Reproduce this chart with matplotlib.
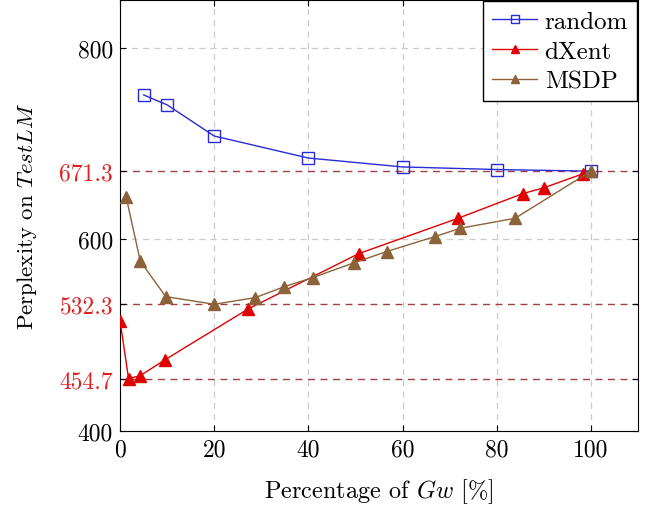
import numpy as np
from matplotlib import pyplot as plt

plt.rcParams['font.family'] = 'cmr10'
plt.rcParams['mathtext.fontset'] = 'cm'
plt.rcParams['axes.formatter.use_mathtext'] = True

# Data
x_random = [5, 10, 20, 40, 60, 80, 100]
y_random = [750.9, 740.5, 708.0, 685.0, 675.7, 673.0, 671.3]

x_dxent = [0, 1.8, 4.3, 9.6, 27.2, 50.7, 71.8, 85.5, 90.1, 98.4]
y_dxent = [515.2, 454.7, 457.8, 474.5, 527.4, 585.2, 622.1, 647.8, 654.1, 668.7]

x_msdp = [1.3, 4.3, 9.7, 20, 28.7, 34.9, 40.9, 49.6, 56.6, 66.8, 72.3, 83.9, 100]
y_msdp = [644.1, 577.2, 540.3, 532.3, 539.2, 550.7, 560.1, 575.5, 587.3, 602.9, 611.7, 622.1, 671.3]

ref_values = [671.3, 532.3, 454.7]
y_ticks = [400, 454.7, 532.3, 600, 671.3, 800]
y_ticklabels = ['400', '454.7', '532.3', '600', '671.3', '800']
x_ticks = [0, 20, 40, 60, 80, 100]

fig = plt.figure(figsize=(6.49, 5.10), dpi=100)
ax = fig.add_axes([0.185, 0.153, 0.798, 0.845])

# grid
for xv in x_ticks[1:]:
    ax.axvline(xv, color='#cccccc', lw=0.9, ls=(0, (5, 4)), zorder=0)
for yv in [600, 800]:
    ax.axhline(yv, color='#cccccc', lw=0.9, ls=(0, (5, 4)), zorder=0)
for yv in ref_values:
    ax.axhline(yv, color='#a04040', lw=1.0, ls=(0, (5, 4)), zorder=1)

ax.plot(x_random, y_random, '-s', color='#2a2ad8', lw=1.0, ms=8,
        mfc='none', mew=1.0, label='random', zorder=3)
ax.plot(x_dxent, y_dxent, '-^', color='#e00000', lw=1.0, ms=8,
        label='dXent', zorder=4)
ax.plot(x_msdp, y_msdp, '-^', color='#8c6239', lw=1.0, ms=8,
        label='MSDP', zorder=5)

ax.set_xlim(0, 110)
ax.set_ylim(400, 850)
ax.set_xticks(x_ticks)
ax.set_xticklabels([str(v) for v in x_ticks])
ax.set_yticks(y_ticks)
ax.set_yticklabels(y_ticklabels)
for lab, val in zip(ax.get_yticklabels(), y_ticks):
    if val in ref_values:
        lab.set_color('#e02020')

ax.tick_params(direction='in', length=4, width=0.8, labelsize=17,
               top=True, right=True, pad=5)

ax.set_xlabel('Percentage of $Gw$ [%]', fontsize=17.5, labelpad=12)
ax.set_ylabel('Perplexity on $TestLM$', fontsize=16.5, labelpad=15)

leg = ax.legend(loc='upper right', fontsize=18, frameon=True, fancybox=False,
                edgecolor='black', framealpha=1, borderaxespad=0.05,
                handlelength=1.8, handletextpad=0.3, borderpad=0.35,
                labelspacing=0.3, markerscale=0.8)
leg.get_frame().set_linewidth(1.0)

plt.savefig('out.png', dpi=100)
